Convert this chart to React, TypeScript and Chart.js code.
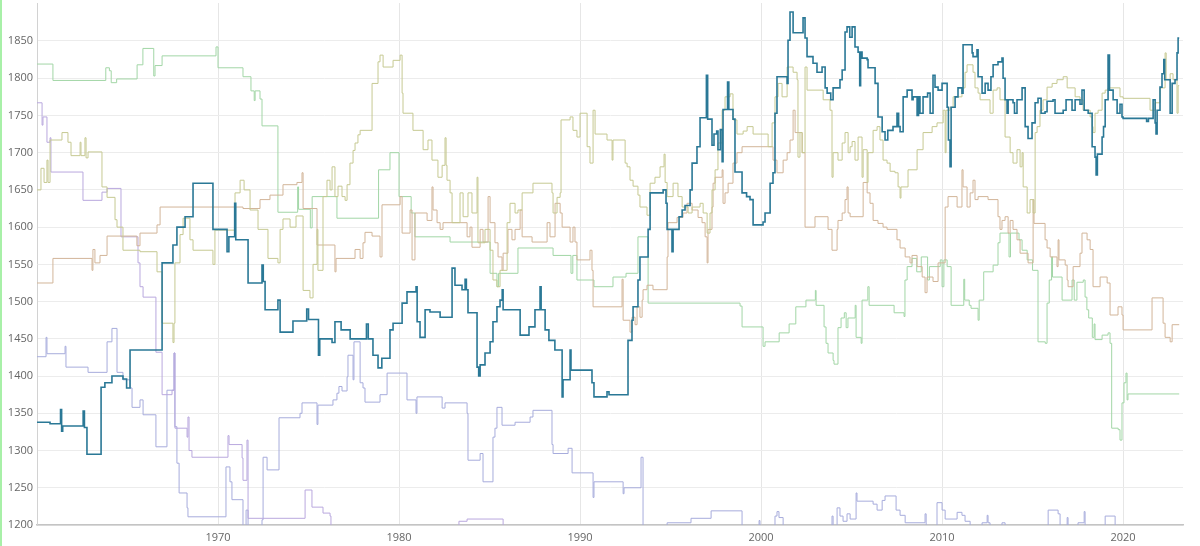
import { Chart, registerables } from "chart.js"
import React, { useEffect, useRef } from "react"

Chart.register(...registerables)

// [year, value] steps: value holds from that year until the next step
const tealSteps: [number, number][] = [
  [1960.0, 1338], [1960.72, 1336], [1961.3, 1355], [1961.36, 1326], [1961.42, 1333], [1962.55, 1353], [1962.62, 1331],
  [1962.76, 1295], [1963.54, 1385], [1963.75, 1391], [1964.14, 1400], [1964.75, 1396], [1964.95, 1384], [1965.14, 1435],
  [1966.91, 1552], [1967.51, 1576], [1967.73, 1600], [1968.18, 1614], [1968.62, 1659], [1969.72, 1597], [1970.5, 1567],
  [1970.6, 1587], [1970.92, 1632], [1970.98, 1583], [1971.66, 1525], [1972.43, 1549], [1972.5, 1527], [1972.6, 1489],
  [1973.31, 1502], [1973.43, 1459], [1974.14, 1474], [1974.9, 1490], [1975.0, 1476], [1975.55, 1428], [1975.62, 1450],
  [1976.3, 1445], [1976.46, 1473], [1976.8, 1462], [1977.3, 1450], [1978.2, 1470], [1978.3, 1450], [1978.56, 1428],
  [1978.84, 1411], [1979.05, 1424], [1979.5, 1462], [1979.67, 1471], [1980.17, 1498], [1980.44, 1513], [1980.94, 1520],
  [1981.0, 1473], [1981.16, 1452], [1981.44, 1489], [1981.71, 1486], [1982.27, 1479], [1982.93, 1545], [1983.09, 1522],
  [1983.48, 1516], [1983.65, 1530], [1983.72, 1516], [1983.81, 1485], [1984.31, 1412], [1984.4, 1400], [1984.48, 1415],
  [1984.75, 1431], [1985.03, 1446], [1985.19, 1473], [1985.41, 1493], [1985.58, 1502], [1985.7, 1516], [1985.75, 1489],
  [1986.69, 1455], [1987.18, 1466], [1987.51, 1489], [1987.79, 1520], [1987.85, 1489], [1988.07, 1462], [1988.28, 1448],
  [1988.61, 1435], [1989.01, 1372], [1989.06, 1395], [1989.45, 1435], [1989.5, 1408], [1990.66, 1391], [1990.77, 1372],
  [1991.49, 1379], [1991.6, 1375], [1992.65, 1448], [1992.87, 1475], [1992.93, 1493], [1993.2, 1529], [1993.31, 1560],
  [1993.76, 1597], [1993.87, 1646], [1994.59, 1650], [1994.75, 1632], [1994.81, 1597], [1995.08, 1567], [1995.14, 1597],
  [1995.47, 1614], [1995.64, 1623], [1995.8, 1629], [1996.08, 1650], [1996.19, 1686], [1996.46, 1708], [1996.63, 1747],
  [1996.98, 1804], [1997.05, 1745], [1997.29, 1710], [1997.4, 1725], [1997.55, 1729], [1997.62, 1704], [1997.75, 1731],
  [1997.85, 1688], [1997.9, 1758], [1998.15, 1795], [1998.22, 1758], [1998.45, 1745], [1998.56, 1674], [1998.95, 1646],
  [1999.2, 1641], [1999.39, 1637], [1999.56, 1603], [2000.11, 1607], [2000.22, 1619], [2000.5, 1659], [2000.66, 1673],
  [2000.77, 1753], [2000.88, 1802], [2001.44, 1793], [2001.49, 1851], [2001.6, 1889], [2001.77, 1861], [2002.32, 1881],
  [2002.43, 1854], [2002.54, 1829], [2002.87, 1820], [2003.09, 1808], [2003.37, 1815], [2003.54, 1787], [2003.65, 1780],
  [2003.85, 1771], [2003.98, 1787], [2004.36, 1798], [2004.48, 1811], [2004.64, 1862], [2004.75, 1869], [2004.9, 1855],
  [2005.03, 1869], [2005.19, 1842], [2005.36, 1835], [2005.45, 1790], [2005.5, 1835], [2005.58, 1827], [2005.86, 1825],
  [2005.91, 1814], [2006.3, 1793], [2006.46, 1748], [2006.69, 1728], [2006.85, 1717], [2007.0, 1730], [2007.29, 1735],
  [2007.51, 1753], [2007.6, 1735], [2007.68, 1728], [2007.85, 1775], [2008.07, 1784], [2008.34, 1771], [2008.4, 1775],
  [2008.62, 1750], [2008.7, 1775], [2008.78, 1753], [2008.95, 1775], [2009.2, 1780], [2009.34, 1753], [2009.5, 1804],
  [2009.61, 1788], [2009.78, 1784], [2010.0, 1793], [2010.28, 1761], [2010.35, 1717], [2010.44, 1681], [2010.5, 1761],
  [2010.72, 1775], [2010.88, 1787], [2011.1, 1780], [2011.16, 1845], [2011.66, 1834], [2011.71, 1829], [2011.93, 1838],
  [2011.99, 1802], [2012.21, 1780], [2012.38, 1793], [2012.54, 1784], [2012.7, 1802], [2012.82, 1818], [2013.09, 1822],
  [2013.31, 1827], [2013.37, 1800], [2013.48, 1771], [2013.59, 1753], [2013.65, 1771], [2013.92, 1767], [2014.0, 1753],
  [2014.14, 1771], [2014.42, 1787], [2014.59, 1735], [2014.75, 1719], [2014.97, 1740], [2015.14, 1767], [2015.3, 1773],
  [2015.47, 1753], [2015.69, 1755], [2015.8, 1769], [2016.13, 1771], [2016.24, 1753], [2016.69, 1757], [2016.85, 1771],
  [2017.18, 1757], [2017.35, 1771], [2017.62, 1765], [2017.73, 1784], [2017.85, 1757], [2018.07, 1753], [2018.29, 1708],
  [2018.45, 1694], [2018.51, 1670], [2018.58, 1698], [2018.84, 1721], [2018.92, 1735], [2019.01, 1771], [2019.17, 1831],
  [2019.25, 1784], [2019.45, 1771], [2019.67, 1753], [2019.83, 1765], [2019.94, 1748], [2020.0, 1746], [2021.3, 1742],
  [2021.4, 1746], [2021.66, 1771], [2021.77, 1740], [2021.82, 1725], [2021.88, 1757], [2022.04, 1788], [2022.15, 1806],
  [2022.25, 1825], [2022.3, 1798], [2022.6, 1753], [2022.71, 1793], [2022.87, 1798], [2022.98, 1834], [2023.04, 1854],
  [2023.1, 1854],
]

const oliveSteps: [number, number][] = [
  [1960.0, 1650], [1960.22, 1679], [1960.39, 1660], [1960.55, 1690], [1960.61, 1660], [1960.72, 1717], [1961.38, 1727],
  [1961.71, 1714], [1961.88, 1696], [1962.38, 1714], [1962.43, 1696], [1962.65, 1720], [1962.71, 1693], [1962.82, 1701],
  [1963.59, 1654], [1963.87, 1640], [1964.31, 1610], [1964.42, 1600], [1964.75, 1569], [1965.69, 1567], [1966.63, 1540],
  [1966.91, 1471], [1967.51, 1445], [1967.57, 1471], [1967.62, 1552], [1967.9, 1590], [1968.07, 1612], [1968.45, 1583],
  [1968.62, 1569], [1969.72, 1550], [1969.83, 1596], [1970.94, 1646], [1971.22, 1663], [1971.44, 1650], [1971.77, 1623],
  [1972.21, 1597], [1972.76, 1558], [1973.31, 1552], [1973.43, 1597], [1973.59, 1611], [1973.98, 1600], [1974.31, 1615],
  [1974.7, 1515], [1975.08, 1505], [1975.25, 1550], [1975.47, 1597], [1975.52, 1542], [1975.8, 1641], [1976.02, 1663],
  [1976.19, 1650], [1976.3, 1681], [1976.46, 1641], [1976.63, 1655], [1976.85, 1641], [1977.02, 1636], [1977.13, 1657],
  [1977.29, 1686], [1977.46, 1703], [1977.57, 1713], [1977.73, 1724], [1977.85, 1730], [1978.51, 1793], [1978.84, 1822],
  [1978.95, 1831], [1979.12, 1815], [1979.67, 1824], [1980.06, 1831], [1980.17, 1780], [1980.22, 1753], [1980.77, 1730],
  [1981.33, 1704], [1981.6, 1717], [1981.82, 1690], [1982.15, 1667], [1982.38, 1683], [1982.54, 1720], [1982.6, 1683],
  [1982.65, 1663], [1982.82, 1646], [1982.93, 1606], [1983.37, 1646], [1983.54, 1614], [1983.81, 1646], [1984.03, 1619],
  [1984.31, 1667], [1984.36, 1579], [1984.75, 1597], [1985.03, 1569], [1985.19, 1529], [1985.41, 1520], [1985.58, 1542],
  [1985.97, 1606], [1986.13, 1632], [1986.41, 1619], [1986.57, 1623], [1986.8, 1646], [1987.4, 1659], [1988.45, 1646],
  [1988.51, 1619], [1988.73, 1640], [1988.9, 1646], [1988.95, 1744], [1989.45, 1748], [1989.61, 1730], [1989.83, 1721],
  [1990.0, 1753], [1990.39, 1708], [1990.55, 1686], [1990.72, 1757], [1990.83, 1725], [1991.49, 1717], [1991.77, 1690],
  [1991.82, 1717], [1992.49, 1686], [1992.6, 1681], [1992.76, 1663], [1992.93, 1655], [1993.2, 1643], [1993.31, 1627],
  [1993.7, 1616], [1993.87, 1659], [1994.14, 1667], [1994.42, 1681], [1994.64, 1698], [1994.7, 1660], [1994.81, 1641],
  [1995.14, 1659], [1995.41, 1641], [1995.64, 1627], [1995.97, 1619], [1996.19, 1627], [1996.63, 1632], [1996.8, 1619],
  [1997.02, 1592], [1997.18, 1619], [1997.29, 1650], [1997.46, 1677], [1997.62, 1713], [1997.85, 1757], [1998.01, 1775],
  [1998.29, 1779], [1998.45, 1744], [1998.67, 1725], [1999.01, 1729], [1999.23, 1735], [1999.56, 1725], [2000.39, 1708],
  [2000.61, 1740], [2000.77, 1775], [2000.94, 1793], [2001.16, 1775], [2001.44, 1815], [2001.77, 1808], [2001.99, 1798],
  [2002.04, 1694], [2002.15, 1727], [2002.27, 1700], [2002.43, 1815], [2002.54, 1784], [2003.43, 1771], [2003.81, 1757],
  [2003.92, 1667], [2003.98, 1700], [2004.25, 1690], [2004.48, 1713], [2004.64, 1727], [2004.81, 1700], [2004.92, 1708],
  [2005.03, 1715], [2005.19, 1690], [2005.36, 1721], [2005.58, 1667], [2005.64, 1704], [2005.86, 1660], [2005.91, 1700],
  [2006.19, 1730], [2006.41, 1735], [2006.57, 1717], [2006.74, 1690], [2006.96, 1686], [2007.13, 1675], [2007.4, 1673],
  [2007.57, 1654], [2007.68, 1639], [2007.73, 1654], [2008.12, 1677], [2008.62, 1704], [2008.95, 1727], [2009.45, 1735],
  [2009.72, 1740], [2010.06, 1757], [2010.17, 1700], [2010.22, 1757], [2010.44, 1761], [2010.61, 1775], [2011.1, 1787],
  [2011.27, 1808], [2011.38, 1818], [2011.71, 1808], [2011.82, 1787], [2011.99, 1780], [2012.1, 1771], [2012.65, 1753],
  [2012.82, 1784], [2013.04, 1787], [2013.2, 1771], [2013.48, 1721], [2013.76, 1700], [2013.92, 1686], [2014.14, 1704],
  [2014.31, 1681], [2014.42, 1700], [2014.48, 1654], [2014.7, 1619], [2014.86, 1637], [2015.03, 1619], [2015.14, 1727],
  [2015.25, 1735], [2015.41, 1757], [2015.58, 1771], [2015.8, 1788], [2016.08, 1793], [2016.35, 1798], [2016.69, 1802],
  [2016.91, 1787], [2017.35, 1775], [2017.62, 1771], [2017.79, 1757], [2018.18, 1748], [2018.29, 1735], [2018.34, 1727],
  [2018.45, 1753], [2018.62, 1757], [2018.84, 1780], [2019.01, 1784], [2019.17, 1787], [2019.83, 1775], [2020.0, 1773],
  [2021.49, 1757], [2021.77, 1767], [2022.04, 1787], [2022.32, 1834], [2022.38, 1798], [2022.6, 1806], [2022.76, 1798],
  [2022.98, 1753], [2023.04, 1790], [2023.1, 1790],
]

const tanSteps: [number, number][] = [
  [1960.0, 1525], [1960.88, 1558], [1963.04, 1542], [1963.09, 1570], [1963.2, 1552], [1963.48, 1562], [1963.87, 1588],
  [1965.52, 1575], [1965.69, 1592], [1966.63, 1603], [1966.8, 1627], [1971.38, 1625], [1972.32, 1637], [1972.87, 1643],
  [1973.59, 1657], [1974.36, 1660], [1974.64, 1673], [1974.7, 1625], [1975.47, 1576], [1976.46, 1540], [1976.52, 1558],
  [1977.57, 1570], [1977.85, 1558], [1978.01, 1579], [1978.12, 1593], [1978.51, 1588], [1978.95, 1560], [1979.06, 1630],
  [1980.06, 1641], [1980.17, 1592], [1980.61, 1623], [1980.72, 1556], [1980.88, 1619], [1981.55, 1609], [1981.82, 1654],
  [1981.88, 1623], [1982.1, 1606], [1982.27, 1597], [1982.43, 1606], [1983.76, 1587], [1983.92, 1600], [1984.03, 1573],
  [1984.48, 1597], [1984.64, 1580], [1984.92, 1641], [1985.03, 1606], [1985.3, 1579], [1985.47, 1560], [1985.69, 1542],
  [1985.75, 1565], [1986.02, 1597], [1986.24, 1583], [1986.41, 1597], [1986.69, 1623], [1986.8, 1587], [1987.35, 1580],
  [1988.18, 1606], [1988.34, 1587], [1988.62, 1632], [1988.9, 1619], [1989.01, 1600], [1989.45, 1580], [1989.61, 1600],
  [1989.72, 1580], [1989.83, 1556], [1990.55, 1569], [1990.66, 1542], [1990.72, 1493], [1992.32, 1530], [1992.38, 1475],
  [1992.76, 1459], [1992.87, 1479], [1993.04, 1469], [1993.15, 1493], [1993.31, 1479], [1993.43, 1502], [1993.48, 1516],
  [1993.7, 1522], [1994.03, 1516], [1994.81, 1560], [1994.86, 1606], [1995.36, 1613], [1995.69, 1619], [1995.91, 1632],
  [1996.19, 1623], [1996.52, 1613], [1996.74, 1606], [1996.91, 1587], [1997.02, 1552], [1997.07, 1597], [1997.29, 1627],
  [1997.35, 1659], [1997.46, 1667], [1997.85, 1677], [1997.9, 1632], [1998.01, 1646], [1998.18, 1659], [1998.45, 1686],
  [1998.67, 1700], [1998.95, 1708], [2000.66, 1690], [2000.88, 1673], [2001.22, 1690], [2001.44, 1700], [2001.6, 1717],
  [2001.77, 1757], [2001.88, 1727], [2002.27, 1700], [2002.43, 1600], [2002.98, 1614], [2003.7, 1597], [2003.92, 1569],
  [2004.2, 1597], [2004.25, 1609], [2004.48, 1619], [2004.64, 1637], [2004.75, 1654], [2004.81, 1619], [2004.92, 1614],
  [2005.64, 1660], [2005.86, 1646], [2006.02, 1632], [2006.19, 1609], [2006.46, 1605], [2006.74, 1600], [2006.96, 1597],
  [2007.51, 1583], [2007.68, 1572], [2007.96, 1560], [2008.23, 1552], [2008.34, 1562], [2008.62, 1547], [2008.9, 1533],
  [2009.06, 1512], [2009.17, 1533], [2009.5, 1527], [2009.78, 1552], [2010.17, 1627], [2010.33, 1641], [2010.83, 1627],
  [2011.1, 1677], [2011.16, 1654], [2011.38, 1627], [2011.55, 1646], [2011.71, 1663], [2011.82, 1637], [2011.99, 1641],
  [2012.54, 1637], [2013.09, 1614], [2013.2, 1597], [2013.31, 1609], [2013.48, 1614], [2013.65, 1592], [2013.76, 1609],
  [2013.92, 1597], [2014.14, 1583], [2014.31, 1565], [2014.75, 1552], [2015.03, 1637], [2015.08, 1605], [2015.69, 1583],
  [2015.8, 1572], [2015.97, 1560], [2016.35, 1547], [2016.41, 1583], [2016.46, 1556], [2016.8, 1549], [2016.91, 1529],
  [2016.96, 1520], [2017.24, 1547], [2017.62, 1565], [2017.73, 1592], [2018.01, 1583], [2018.18, 1570], [2018.34, 1520],
  [2018.73, 1533], [2019.12, 1525], [2019.28, 1482], [2019.72, 1493], [2019.94, 1482], [2020.0, 1462], [2021.6, 1505],
  [2022.21, 1471], [2022.32, 1452], [2022.6, 1446], [2022.71, 1469], [2023.1, 1469],
]

const greenSteps: [number, number][] = [
  [1960.0, 1819], [1960.88, 1797], [1963.8, 1814], [1964.0, 1810], [1964.1, 1794], [1964.4, 1799], [1965.53, 1818],
  [1965.85, 1840], [1966.45, 1803], [1966.52, 1817], [1966.91, 1830], [1969.89, 1842], [1970.0, 1814], [1971.38, 1802],
  [1971.82, 1783], [1972.0, 1770], [1972.05, 1783], [1972.32, 1772], [1972.43, 1736], [1973.31, 1620], [1974.4, 1654],
  [1974.45, 1624], [1975.1, 1599], [1975.2, 1641], [1976.57, 1612], [1978.87, 1677], [1979.5, 1700], [1980.0, 1641],
  [1980.67, 1619], [1980.88, 1587], [1982.82, 1580], [1985.03, 1538], [1985.41, 1520], [1985.5, 1538], [1986.57, 1572],
  [1988.51, 1562], [1989.5, 1538], [1989.6, 1562], [1989.83, 1529], [1990.77, 1520], [1991.82, 1533], [1992.54, 1538],
  [1993.2, 1587], [1993.76, 1498], [1998.84, 1494], [1998.95, 1466], [2000.11, 1440], [2000.22, 1446], [2001.0, 1458],
  [2001.55, 1470], [2001.92, 1493], [2002.48, 1502], [2003.0, 1515], [2003.04, 1495], [2003.48, 1466], [2003.59, 1444],
  [2003.7, 1431], [2003.98, 1421], [2004.03, 1416], [2004.25, 1465], [2004.42, 1478], [2004.6, 1485], [2004.7, 1465],
  [2004.8, 1478], [2005.2, 1495], [2005.25, 1452], [2005.53, 1444], [2005.58, 1502], [2005.9, 1520], [2005.97, 1495],
  [2007.35, 1485], [2007.9, 1480], [2007.95, 1529], [2008.07, 1547], [2008.34, 1558], [2008.6, 1540], [2008.85, 1560],
  [2009.2, 1529], [2009.3, 1547], [2009.9, 1556], [2010.0, 1520], [2010.1, 1556], [2010.28, 1547], [2010.5, 1495],
  [2011.2, 1530], [2011.25, 1502], [2011.5, 1495], [2011.6, 1491], [2011.99, 1475], [2012.05, 1502], [2012.3, 1540],
  [2012.82, 1549], [2013.09, 1579], [2013.2, 1592], [2013.7, 1560], [2013.78, 1592], [2014.25, 1583], [2014.42, 1569],
  [2014.7, 1556], [2015.0, 1542], [2015.3, 1446], [2015.7, 1444], [2015.8, 1498], [2015.92, 1529], [2016.05, 1560],
  [2016.1, 1533], [2016.63, 1502], [2017.18, 1529], [2017.3, 1502], [2017.45, 1526], [2017.8, 1529], [2017.9, 1506],
  [2018.0, 1489], [2018.1, 1478], [2018.3, 1452], [2018.4, 1470], [2018.45, 1449], [2018.84, 1455], [2019.17, 1458],
  [2019.28, 1444], [2019.37, 1330], [2019.73, 1328], [2019.83, 1314], [2019.94, 1364], [2020.05, 1391], [2020.16, 1404],
  [2020.22, 1368], [2020.27, 1376], [2023.1, 1376],
]

const lavenderSteps: [number, number][] = [
  [1960.0, 1767], [1960.28, 1737], [1960.33, 1748], [1960.55, 1714], [1960.72, 1720], [1960.77, 1674], [1962.54, 1636],
  [1963.59, 1647], [1963.87, 1652], [1964.64, 1587], [1965.58, 1552], [1965.69, 1520], [1965.86, 1506], [1966.57, 1432],
  [1966.91, 1375], [1967.46, 1381], [1967.57, 1431], [1967.62, 1330], [1968.29, 1318], [1968.34, 1345], [1968.4, 1300],
  [1968.56, 1291], [1970.55, 1320], [1970.61, 1308], [1971.33, 1290], [1971.38, 1260], [1971.6, 1314], [1971.66, 1209],
  [1974.81, 1247], [1975.19, 1224], [1975.8, 1216], [1976.19, 1212], [1976.24, 1180], [1983.31, 1205], [1983.76, 1208],
  [1985.75, 1180], [2023.1, 1180],
]

const periwinkleSteps: [number, number][] = [
  [1960.0, 1426], [1960.5, 1452], [1960.55, 1430], [1961.55, 1440], [1961.6, 1412], [1962.82, 1405], [1963.87, 1446],
  [1964.14, 1464], [1964.42, 1405], [1964.75, 1395], [1965.14, 1384], [1965.25, 1358], [1965.69, 1368], [1965.86, 1348],
  [1966.57, 1305], [1967.18, 1381], [1967.57, 1431], [1967.62, 1332], [1967.73, 1283], [1967.85, 1243], [1968.29, 1223],
  [1968.34, 1211], [1970.44, 1278], [1970.66, 1258], [1970.77, 1234], [1971.38, 1180], [1971.55, 1220], [1971.66, 1180],
  [1972.43, 1207], [1972.49, 1291], [1972.71, 1274], [1973.37, 1344], [1974.53, 1350], [1974.64, 1364], [1975.47, 1335],
  [1975.52, 1361], [1976.35, 1368], [1976.57, 1377], [1976.68, 1386], [1976.85, 1380], [1977.13, 1399], [1977.18, 1428],
  [1977.46, 1395], [1977.51, 1446], [1977.85, 1391], [1978.01, 1384], [1978.12, 1365], [1978.95, 1375], [1979.34, 1404],
  [1980.44, 1368], [1980.94, 1350], [1980.99, 1372], [1982.38, 1357], [1982.54, 1364], [1983.76, 1350], [1983.81, 1287],
  [1984.48, 1296], [1984.64, 1258], [1985.19, 1318], [1985.3, 1330], [1985.41, 1358], [1985.69, 1334], [1986.41, 1338],
  [1987.24, 1345], [1987.4, 1354], [1988.45, 1308], [1988.51, 1296], [1989.34, 1303], [1989.56, 1270], [1990.72, 1237],
  [1990.77, 1258], [1992.38, 1242], [1992.43, 1250], [1993.37, 1291], [1993.48, 1180], [1994.81, 1203], [1996.13, 1209],
  [1997.24, 1219], [1998.95, 1180], [1999.89, 1206], [1999.94, 1180], [2000.77, 1212], [2000.88, 1218], [2000.99, 1210],
  [2001.22, 1180], [2003.92, 1212], [2003.98, 1180], [2004.2, 1223], [2004.36, 1212], [2004.53, 1205], [2004.75, 1215],
  [2004.92, 1208], [2005.25, 1243], [2005.3, 1232], [2006.19, 1228], [2006.41, 1220], [2006.69, 1233], [2006.85, 1239],
  [2007.46, 1220], [2007.68, 1213], [2007.96, 1203], [2009.06, 1215], [2009.12, 1180], [2009.72, 1230], [2010.0, 1220],
  [2010.17, 1208], [2010.83, 1217], [2011.1, 1213], [2011.27, 1205], [2011.55, 1180], [2012.21, 1203], [2012.49, 1213],
  [2012.54, 1203], [2012.65, 1180], [2013.31, 1203], [2013.48, 1180], [2015.86, 1220], [2016.41, 1215], [2016.52, 1180],
  [2016.91, 1210], [2016.96, 1180], [2017.51, 1203], [2017.85, 1218], [2017.9, 1180], [2019.01, 1212], [2019.56, 1180],
  [2023.1, 1180],
]

const decadeTicks = [1970, 1980, 1990, 2000, 2010, 2020]
const valueTicks = [1200, 1250, 1300, 1350, 1400, 1450, 1500, 1550, 1600, 1650, 1700, 1750, 1800, 1850]

const series = [
  { label: "teal", steps: tealSteps, color: "#2a7896", width: 1.6 },
  { label: "olive", steps: oliveSteps, color: "#c6c992", width: 1 },
  { label: "tan", steps: tanSteps, color: "#d2b599", width: 1 },
  { label: "green", steps: greenSteps, color: "#a2d6a6", width: 1 },
  { label: "lavender", steps: lavenderSteps, color: "#b9a8de", width: 1 },
  { label: "periwinkle", steps: periwinkleSteps, color: "#a7acdc", width: 1 },
]

const App: React.FC = () => {
  const chartRef = useRef<HTMLCanvasElement>(null)
  const chartInstanceRef = useRef<Chart | null>(null)

  useEffect(() => {
    const ctx = chartRef.current?.getContext("2d")
    if (!ctx) return

    chartInstanceRef.current = new Chart(ctx, {
      type: "line",
      data: {
        datasets: series.map((s) => ({
          label: s.label,
          data: s.steps.map(([x, y]) => ({ x, y })),
          borderColor: s.color,
          borderWidth: s.width,
          pointRadius: 0,
          stepped: true,
          fill: false,
          clip: 0,
        })),
      },
      options: {
        animation: false,
        responsive: true,
        maintainAspectRatio: false,
        layout: { padding: { top: 3, right: 17, left: 0, bottom: 0 } },
        plugins: {
          legend: { display: false },
          tooltip: { enabled: false },
        },
        scales: {
          x: {
            type: "linear",
            min: 1960,
            max: 2023.31,
            afterBuildTicks: (scale) => {
              scale.ticks = decadeTicks.map((value) => ({ value }))
            },
            afterFit: (scale) => {
              scale.height = 21
              scale.paddingLeft = 0
              scale.paddingRight = 0
            },
            grid: { color: "#e6e6e6", drawTicks: false },
            border: { color: "#c4c4c4", width: 1.5 },
            ticks: {
              padding: 6,
              color: "#666",
              font: { family: "'Open Sans', sans-serif", size: 11 },
              callback: (v) => String(v),
            },
          },
          y: {
            min: 1200,
            max: 1901,
            afterBuildTicks: (scale) => {
              scale.ticks = valueTicks.map((value) => ({ value }))
            },
            afterFit: (scale) => {
              scale.width = 37
              scale.paddingTop = 0
              scale.paddingBottom = 0
            },
            grid: { color: "#ececec", drawTicks: false },
            border: { color: "#d2d2d2", width: 1 },
            ticks: {
              padding: 4,
              color: "#666",
              font: { family: "'Open Sans', sans-serif", size: 11 },
              callback: (v) => String(v),
            },
          },
        },
      },
    })

    return () => {
      chartInstanceRef.current?.destroy()
    }
  }, [])

  return (
    <div style={{ position: "fixed", left: 0, top: 0, width: 1200, height: 546, background: "#fff" }}>
      <canvas ref={chartRef} />
      <div style={{ position: "absolute", left: 0, top: 0, width: 2, height: 546, background: "#a8f0a8" }} />
    </div>
  )
}

export default App
